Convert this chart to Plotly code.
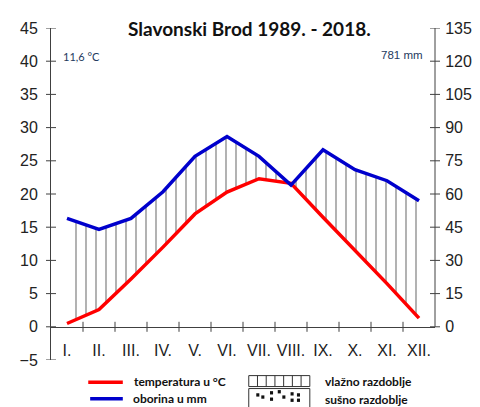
"""Klimadijagram Slavonski Brod 1989. - 2018."""

import plotly.graph_objects as go

# Podaci
mjeseci = ['I.', 'II.', 'III.', 'IV.', 'V.', 'VI.', 'VII.', 'VIII.', 'IX.', 'X.', 'XI.', 'XII.']
temperatura = [0.5, 2.6, 7.2, 12.0, 17.0, 20.3, 22.3, 21.6, 16.5, 11.5, 6.5, 1.3]
oborina = [49, 44, 49, 61, 77, 86, 77, 64, 80, 71, 66, 57]
ticks_t = [-5, 0, 5, 10, 15, 20, 25, 30, 35, 40, 45]
ticks_o = [0, 15, 30, 45, 60, 75, 90, 105, 120, 135]

x = list(range(len(mjeseci)))
granice = [i + 0.5 for i in range(len(mjeseci) - 1)]
AX = '#404040'
FONT = 'Liberation Sans'

fig = go.Figure()

# Šrafura vlažnog razdoblja (oborina/3 na lijevoj skali)
fig.add_trace(go.Scatter(
    x=x, y=temperatura, mode='lines', line=dict(width=0),
    showlegend=False, hoverinfo='skip'
))
fig.add_trace(go.Scatter(
    x=x, y=[o / 3 for o in oborina], mode='lines', line=dict(width=0),
    fill='tonexty', fillcolor='white',
    fillpattern=dict(shape='|', fgcolor='#000000', bgcolor='white', size=10, solidity=0.12),
    showlegend=False, hoverinfo='skip'
))

# Temperatura
fig.add_trace(go.Scatter(
    x=x, y=temperatura, mode='lines',
    line=dict(color='#ff0000', width=3.5),
    showlegend=False
))

# Oborina
fig.add_trace(go.Scatter(
    x=x, y=oborina, mode='lines', yaxis='y2',
    line=dict(color='#0000cc', width=3.5),
    showlegend=False
))

shapes = []
# Križne oznake na osima
for v in ticks_t:
    shapes.append(dict(type='line', xref='paper', xsizemode='pixel', xanchor=0,
                       x0=-5, x1=5, yref='y', y0=v, y1=v,
                       line=dict(color=AX, width=1)))
for v in ticks_o:
    shapes.append(dict(type='line', xref='paper', xsizemode='pixel', xanchor=1,
                       x0=-5, x1=5, yref='y2', y0=v, y1=v,
                       line=dict(color=AX, width=1)))
for g in granice:
    shapes.append(dict(type='line', xref='x', x0=g, x1=g, yref='y',
                       ysizemode='pixel', yanchor=0, y0=-5, y1=5,
                       line=dict(color=AX, width=1)))
# Desna os (0 - 135)
shapes.append(dict(type='line', xref='paper', x0=1, x1=1, yref='y2',
                   y0=ticks_o[0], y1=ticks_o[-1], line=dict(color=AX, width=1)))

# Legenda
shapes.append(dict(type='line', xref='paper', yref='paper', x0=0.097, x1=0.187,
                   y0=-0.067, y1=-0.067, line=dict(color='#ff0000', width=3.5)))
shapes.append(dict(type='line', xref='paper', yref='paper', x0=0.102, x1=0.187,
                   y0=-0.117, y1=-0.117, line=dict(color='#0000cc', width=3.5)))
bx0, bx1 = 0.515, 0.674
shapes.append(dict(type='rect', xref='paper', yref='paper', x0=bx0, x1=bx1,
                   y0=-0.047, y1=-0.080, line=dict(color='#333333', width=1)))
for k in range(1, 7):
    xx = bx0 + (bx1 - bx0) * k / 7
    shapes.append(dict(type='line', xref='paper', yref='paper', x0=xx, x1=xx,
                       y0=-0.047, y1=-0.080, line=dict(color='#333333', width=1)))
shapes.append(dict(type='rect', xref='paper', yref='paper', x0=bx0, x1=bx1,
                   y0=-0.086, y1=-0.150, line=dict(color='#333333', width=1)))
tocke = [(0.03, 0.3), (0.14, 0.4), (0.33, 0.2), (0.33, 0.5), (0.5, 0.15),
         (0.6, 0.4), (0.78, 0.25), (0.78, 0.55), (0.92, 0.3), (0.92, 0.55)]
for tx, ty in tocke:
    cx = bx0 + 0.02 + (bx1 - bx0 - 0.04) * tx
    cy = -0.086 - 0.064 * ty
    shapes.append(dict(type='rect', xref='paper', yref='paper',
                       x0=cx - 0.004, x1=cx + 0.004, y0=cy - 0.005, y1=cy + 0.005,
                       fillcolor='#111111', line=dict(width=0)))

annotations = [
    dict(text='<b>Slavonski Brod 1989. - 2018.</b>', x=0.518, y=0.997,
         xref='paper', yref='paper', showarrow=False, xanchor='center', yanchor='middle',
         font=dict(family='Lato', size=19, color='#111111')),
    dict(text='11,6 °C', x=0.026, y=0.914, xref='paper', yref='paper', showarrow=False,
         xanchor='left', yanchor='middle', font=dict(family='Lato', size=11, color='#243a5e')),
    dict(text='781 mm', x=0.974, y=0.918, xref='paper', yref='paper', showarrow=False,
         xanchor='right', yanchor='middle', font=dict(family=FONT, size=11.5, color='#243a5e')),
    dict(text='<b>temperatura u °C</b>', x=0.21, y=-0.065, xref='paper', yref='paper',
         showarrow=False, xanchor='left', yanchor='middle',
         font=dict(family='Lato', size=12, color='#111111')),
    dict(text='<b>oborina u mm</b>', x=0.208, y=-0.117, xref='paper', yref='paper',
         showarrow=False, xanchor='left', yanchor='middle',
         font=dict(family='Lato', size=12, color='#111111')),
    dict(text='<b>vlažno razdoblje</b>', x=0.708, y=-0.065, xref='paper', yref='paper',
         showarrow=False, xanchor='left', yanchor='middle',
         font=dict(family='Lato', size=12, color='#111111')),
    dict(text='<b>sušno razdoblje</b>', x=0.708, y=-0.118, xref='paper', yref='paper',
         showarrow=False, xanchor='left', yanchor='middle',
         font=dict(family='Lato', size=12, color='#111111')),
]

fig.update_layout(
    width=480, height=407,
    margin=dict(l=37, r=53, t=13, b=55),
    plot_bgcolor='white', paper_bgcolor='white',
    showlegend=False,
    xaxis=dict(
        range=[-0.5, len(mjeseci) - 0.5], tickvals=x, ticktext=mjeseci,
        ticks='outside', ticklen=9, tickcolor='rgba(0,0,0,0)',
        showgrid=False, zeroline=False, showline=True, linecolor=AX,
        anchor='free', position=0.1,
        tickfont=dict(family=FONT, size=16, color='#222222'),
    ),
    yaxis=dict(
        range=[ticks_t[0], ticks_t[-1]], tickvals=ticks_t,
        ticks='outside', ticklen=9, tickcolor='rgba(0,0,0,0)',
        showgrid=False, zeroline=False, showline=True, linecolor=AX,
        tickfont=dict(family=FONT, size=16, color='#222222'),
    ),
    yaxis2=dict(
        range=[3 * ticks_t[0], 3 * ticks_t[-1]], tickvals=ticks_o,
        overlaying='y', side='right',
        ticks='outside', ticklen=6, tickcolor='rgba(0,0,0,0)',
        showgrid=False, zeroline=False, showline=False,
        tickfont=dict(family=FONT, size=16, color='#222222'),
    ),
    shapes=shapes,
    annotations=annotations,
)

fig.write_html("out.html")
